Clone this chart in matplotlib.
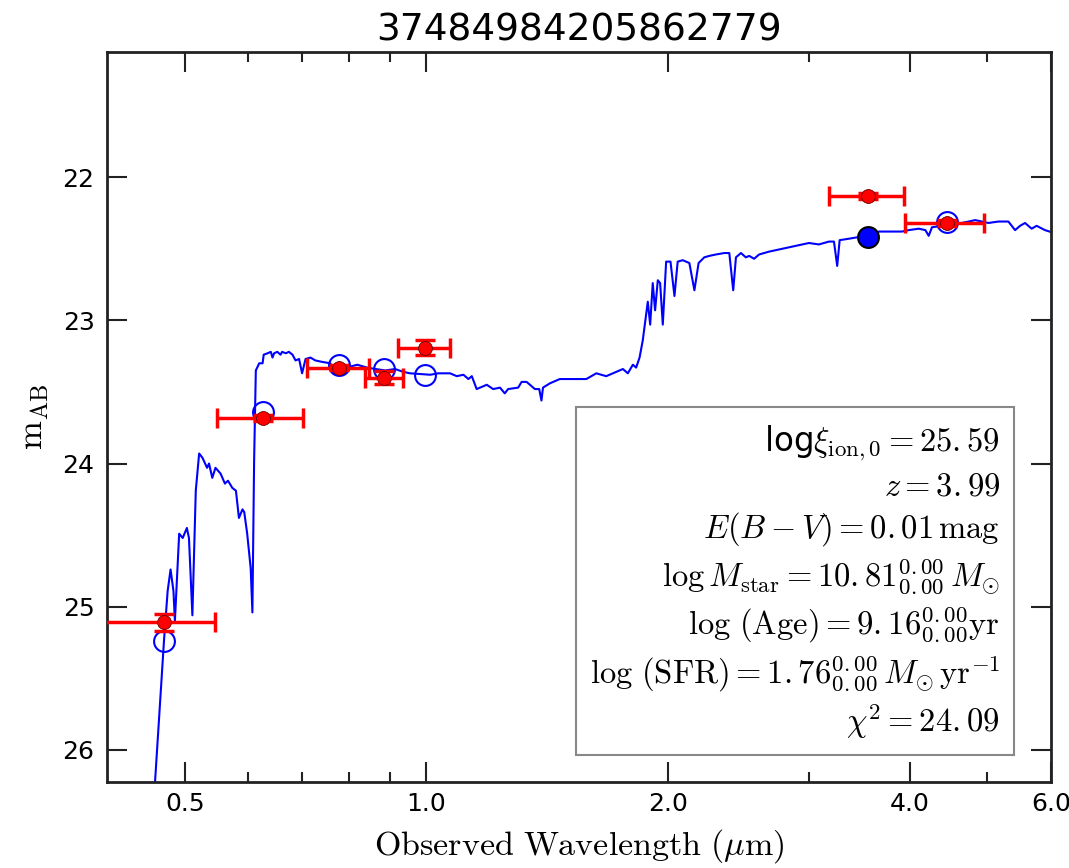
import matplotlib
matplotlib.use("Agg")
import matplotlib.pyplot as plt
from matplotlib.ticker import FixedLocator, FormatStrFormatter, NullFormatter

plt.rcParams['mathtext.fontset'] = 'cm'

# best-fit model spectrum (observed wavelength in micron, AB mag)
model_wave = [0.456, 0.459, 0.471, 0.476, 0.480, 0.484, 0.486, 0.492, 0.497, 0.503,
              0.506, 0.511, 0.516, 0.521, 0.526, 0.533, 0.536, 0.541, 0.546, 0.554,
              0.561, 0.566, 0.573, 0.579, 0.584, 0.590, 0.593, 0.598, 0.604, 0.607,
              0.610, 0.613, 0.619, 0.625, 0.627, 0.634, 0.640, 0.643, 0.646, 0.652,
              0.658, 0.661, 0.668, 0.674, 0.681, 0.687, 0.694, 0.700, 0.707, 0.717,
              0.727, 0.741, 0.759, 0.770, 0.781, 0.796, 0.820, 0.843, 0.864, 0.889,
              0.914, 0.936, 0.954, 1.011, 1.035, 1.070, 1.091, 1.112, 1.128, 1.139,
              1.155, 1.166, 1.189, 1.211, 1.235, 1.252, 1.264, 1.301, 1.314, 1.333,
              1.365, 1.382, 1.391, 1.397, 1.425, 1.466, 1.523, 1.582, 1.628, 1.675,
              1.707, 1.757, 1.782, 1.808, 1.825, 1.843, 1.860, 1.887, 1.900, 1.914,
              1.927, 1.942, 1.955, 1.970, 1.989, 2.014, 2.037, 2.056, 2.086, 2.126,
              2.157, 2.183, 2.219, 2.251, 2.295, 2.350, 2.384, 2.411, 2.430, 2.465,
              2.500, 2.524, 2.560, 2.597, 2.673, 2.776, 2.885, 2.996, 3.083, 3.173,
              3.219, 3.249, 3.272, 3.360, 3.441, 3.609, 3.661, 3.767, 3.913, 3.989,
              4.105, 4.184, 4.224, 4.264, 4.387, 4.559, 4.735, 4.827, 4.919, 5.014,
              5.160, 5.309, 5.412, 5.490, 5.569, 5.675, 5.757, 5.897, 6.130]
model_mag = [26.36, 26.23, 25.24, 24.89, 24.74, 24.89, 25.10, 24.49, 24.52, 24.45,
             24.52, 25.06, 24.19, 23.93, 23.96, 24.03, 24.00, 24.10, 24.03, 24.07,
             24.14, 24.12, 24.17, 24.19, 24.38, 24.32, 24.34, 24.49, 24.73, 25.04,
             23.98, 23.35, 23.30, 23.30, 23.24, 23.23, 23.22, 23.26, 23.23, 23.22,
             23.24, 23.22, 23.23, 23.22, 23.24, 23.28, 23.27, 23.37, 23.27, 23.26,
             23.28, 23.29, 23.30, 23.37, 23.35, 23.33, 23.31, 23.33, 23.34, 23.35,
             23.34, 23.36, 23.37, 23.38, 23.37, 23.37, 23.39, 23.38, 23.41, 23.39,
             23.48, 23.47, 23.45, 23.48, 23.47, 23.51, 23.48, 23.47, 23.43, 23.43,
             23.48, 23.48, 23.56, 23.47, 23.44, 23.41, 23.41, 23.41, 23.37, 23.39,
             23.37, 23.34, 23.37, 23.31, 23.33, 23.26, 23.14, 22.87, 23.03, 22.74,
             22.93, 22.72, 22.74, 23.03, 22.59, 22.59, 22.83, 22.59, 22.58, 22.60,
             22.79, 22.60, 22.56, 22.55, 22.54, 22.53, 22.53, 22.79, 22.56, 22.53,
             22.56, 22.55, 22.57, 22.54, 22.52, 22.50, 22.48, 22.46, 22.47, 22.45,
             22.45, 22.62, 22.44, 22.43, 22.42, 22.40, 22.38, 22.38, 22.38, 22.37,
             22.36, 22.37, 22.41, 22.35, 22.34, 22.33, 22.31, 22.30, 22.31, 22.32,
             22.31, 22.31, 22.37, 22.34, 22.32, 22.36, 22.34, 22.37, 22.40]

# observed photometry
phot_wave = [0.471, 0.625, 0.778, 0.886, 0.996, 3.55, 4.45]
phot_mag = [25.11, 23.68, 23.33, 23.40, 23.19, 22.13, 22.32]
phot_wave_err = [0.075, 0.076, 0.069, 0.048, 0.075, 0.38, 0.50]
phot_mag_err = [0.06, 0.02, 0.02, 0.045, 0.05, 0.02, 0.02]

# model photometry in the same bands (the 3.6 um band is drawn filled)
band_mag = [25.24, 23.64, 23.31, 23.34, 23.38, 22.42, 22.31]
filled_band = 5

obj_id = "37484984205862779"
fit_lines = [r"log$\xi_{\rm ion,0} = 25.{}59$",
             r"$z = 3.{}99$",
             r"$E(B-V) = 0.{}01\,\mathrm{mag}$",
             r"$\log M_{\rm star} = 10.{}81^{0.{}00}_{0.{}00}\,M_{\odot}$",
             r"$\log\,(\mathrm{Age}) = 9.{}16^{0.{}00}_{0.{}00}\mathrm{yr}$",
             r"$\log\,(\mathrm{SFR}) = 1.{}76^{0.{}00}_{0.{}00}\,M_{\odot}\,\mathrm{yr}^{-1}$",
             r"$\chi^2 = 24.{}09$"]

fig = plt.figure(figsize=(10.69, 8.68), dpi=100)
ax = fig.add_axes([0.1001, 0.0991, 0.8831, 0.841])

ax.plot(model_wave, model_mag, color='blue', lw=1.5, zorder=2)

open_w = [w for i, w in enumerate(phot_wave) if i != filled_band]
open_m = [m for i, m in enumerate(band_mag) if i != filled_band]
ax.plot(open_w, open_m, 'o', ms=15, mfc='none', mec='blue', mew=1.5, zorder=3)
ax.plot(phot_wave[filled_band], band_mag[filled_band], 'o', ms=15,
        mfc='blue', mec='black', mew=1.5, zorder=3)

# error bars first, then the data points on top
ax.errorbar(phot_wave, phot_mag, xerr=phot_wave_err, yerr=phot_mag_err,
            fmt='none', ecolor='red', elinewidth=2.5, capsize=7, capthick=2.5,
            zorder=4)
ax.plot(phot_wave, phot_mag, 'o', ms=10, mfc='red', mec='#660000', mew=0.6,
        zorder=5)

ax.set_xscale('log')
ax.set_xlim(0.4, 6.0)
ax.set_ylim(26.224, 21.126)

ax.xaxis.set_major_locator(FixedLocator([0.5, 1.0, 2.0, 4.0, 6.0]))
ax.xaxis.set_minor_locator(FixedLocator([0.6, 0.7, 0.8, 0.9, 3.0, 5.0]))
ax.xaxis.set_major_formatter(FormatStrFormatter('%.1f'))
ax.xaxis.set_minor_formatter(NullFormatter())
ax.yaxis.set_major_locator(FixedLocator([22, 23, 24, 25, 26]))

ax.tick_params(which='both', direction='in', top=True, right=True, color='#222222')
ax.tick_params(which='major', length=14.4, width=1.5, labelsize=18)
ax.tick_params(which='minor', length=7.2, width=1.5)
ax.tick_params(axis='x', which='major', pad=7)
ax.tick_params(axis='y', which='major', pad=9)
for sp in ax.spines.values():
    sp.set_linewidth(2)
    sp.set_color('#222222')

ax.set_title(obj_id, fontsize=27, pad=8)
ax.set_xlabel(r"$\rm Observed\ Wavelength\ (\mu m)$", fontsize=24.5, labelpad=8)
ax.set_ylabel(r"$\rm m_{AB}$", fontsize=25, labelpad=8)

# fit summary box in the lower right corner
ax.text(0.946, 0.056, "\n".join(fit_lines), transform=ax.transAxes,
        ha='right', va='bottom', multialignment='right', fontsize=23.5,
        linespacing=1.27, zorder=6,
        bbox=dict(boxstyle='square,pad=0.42', fc='white', ec='#888888', lw=1.5))

fig.savefig("out.png", dpi=100)
